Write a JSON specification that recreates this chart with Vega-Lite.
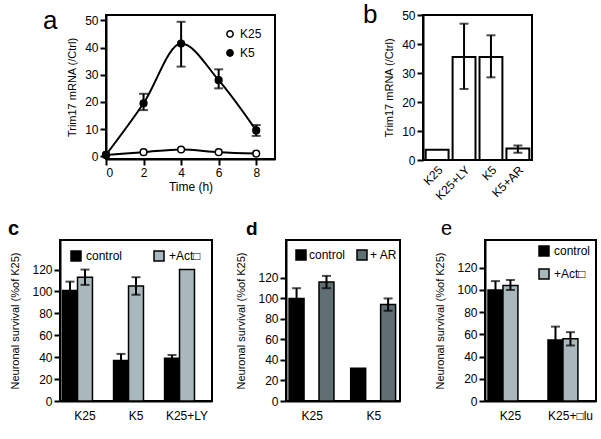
{
  "$schema": "https://vega.github.io/schema/vega-lite/v6.json",
  "background": "white",
  "padding": {"left": 7, "top": 1, "right": 0, "bottom": 0},
  "resolve": {"scale": {"fill": "independent"}, "legend": {"fill": "independent"}},
  "config": {
    "font": "Liberation Sans",
    "view": {"stroke": "black", "strokeWidth": 2},
    "axis": {"domainColor": "black", "domainWidth": 2, "tickColor": "black", "tickWidth": 2, "tickSize": 6, "labelColor": "black", "titleColor": "black", "labelFontSize": 12, "titleFontSize": 11, "titleFontWeight": "normal", "grid": false, "labelPadding": 2},
    "legend": {"labelFontSize": 12, "labelColor": "black", "titleFontSize": 0, "padding": 0, "labelOffset": 4},
    "title": {"fontSize": 26, "fontWeight": "normal", "anchor": "start", "frame": "group", "color": "black", "baseline": "alphabetic", "offset": 0}
  },
  "datasets": {
    "a": [
      {"t": 0, "s": "K25", "v": 0.5}, {"t": 2, "s": "K25", "v": 1.5}, {"t": 4, "s": "K25", "v": 2.5}, {"t": 6, "s": "K25", "v": 1.5}, {"t": 8, "s": "K25", "v": 1},
      {"t": 0, "s": "K5", "v": 0.5}, {"t": 2, "s": "K5", "v": 19.5, "lo": 17, "hi": 23}, {"t": 4, "s": "K5", "v": 41.5, "lo": 33, "hi": 49.5}, {"t": 6, "s": "K5", "v": 28, "lo": 25, "hi": 32}, {"t": 8, "s": "K5", "v": 9.5, "lo": 7.5, "hi": 11.5}
    ],
    "b": [
      {"c": "K25", "v": 3.5},
      {"c": "K25+LY", "v": 35.5, "lo": 24.5, "hi": 47},
      {"c": "K5", "v": 35.5, "lo": 28.5, "hi": 43},
      {"c": "K5+AR", "v": 4, "lo": 2.5, "hi": 5}
    ],
    "c": [
      {"c": "K25", "g": "control", "v": 101, "lo": 93, "hi": 109},
      {"c": "K25", "g": "+Act□", "v": 113, "lo": 106, "hi": 120},
      {"c": "K5", "g": "control", "v": 37, "lo": 31, "hi": 43},
      {"c": "K5", "g": "+Act□", "v": 105, "lo": 97, "hi": 113},
      {"c": "K25+LY", "g": "control", "v": 39, "lo": 36, "hi": 42},
      {"c": "K25+LY", "g": "+Act□", "v": 120}
    ],
    "d": [
      {"c": "K25", "g": "control", "v": 100, "lo": 90, "hi": 110},
      {"c": "K25", "g": "+ AR", "v": 116, "lo": 110, "hi": 122},
      {"c": "K5", "g": "control", "v": 32},
      {"c": "K5", "g": "+ AR", "v": 94, "lo": 88, "hi": 100}
    ],
    "e": [
      {"c": "K25", "g": "control", "v": 100, "lo": 92, "hi": 108},
      {"c": "K25", "g": "+Act□", "v": 104, "lo": 100, "hi": 109},
      {"c": "K25+□lu", "g": "control", "v": 55, "lo": 43, "hi": 67},
      {"c": "K25+□lu", "g": "+Act□", "v": 56, "lo": 50, "hi": 62}
    ]
  },
  "vconcat": [
    {
      "resolve": {"scale": {"fill": "independent"}, "legend": {"fill": "independent"}},
      "hconcat": [
        {"width": 5, "height": 10, "view": {"stroke": null}, "title": {"text": "a", "dx": -17, "dy": 23}, "data": {"values": []}, "mark": "point"},
        {
          "resolve": {"scale": {"fill": "independent"}, "legend": {"fill": "independent"}},
          "hconcat": [
            {
              "width": 169, "height": 144,
              "data": {"name": "a"},
              "encoding": {
                "x": {"field": "t", "type": "quantitative", "scale": {"domain": [0, 9], "nice": false}, "axis": {"values": [0, 2, 4, 6, 8], "title": "Time (h)", "titleFontSize": 12, "titlePadding": 3}},
                "y": {"field": "v", "type": "quantitative", "scale": {"domain": [-1, 52], "nice": false}, "axis": {"values": [0, 10, 20, 30, 40, 50], "title": "Trim17 mRNA (/Ctrl)", "titlePadding": 7}}
              },
              "layer": [
                {"mark": {"type": "line", "interpolate": "monotone", "color": "black", "strokeWidth": 2}, "encoding": {"detail": {"field": "s"}}},
                {"mark": {"type": "rule", "color": "black", "strokeWidth": 2}, "encoding": {"y": {"field": "lo", "type": "quantitative"}, "y2": {"field": "hi"}}},
                {"mark": {"type": "tick", "orient": "horizontal", "color": "black", "size": 9, "thickness": 2}, "encoding": {"y": {"field": "lo", "type": "quantitative"}}},
                {"mark": {"type": "tick", "orient": "horizontal", "color": "black", "size": 9, "thickness": 2}, "encoding": {"y": {"field": "hi", "type": "quantitative"}}},
                {"mark": {"type": "point", "shape": "circle", "size": 45, "stroke": "black", "strokeWidth": 1.5, "opacity": 1},
                 "encoding": {"fill": {"field": "s", "type": "nominal", "scale": {"domain": ["K25", "K5"], "range": ["white", "black"]},
                   "legend": {"orient": "top-right", "offset": 13, "title": null, "symbolStrokeColor": "black", "symbolStrokeWidth": 1.5, "symbolSize": 40, "rowPadding": 5, "labelFontSize": 12}}}}
              ]
            },
            {
              "width": 109, "height": 145,
              "title": {"text": "b", "dx": -60, "dy": 23},
              "data": {"name": "b"},
              "encoding": {
                "x": {"field": "c", "type": "nominal", "sort": null, "scale": {"paddingInner": 0.15, "paddingOuter": 0.1}, "axis": {"title": null, "labelAngle": -45, "ticks": false, "labelPadding": 4, "domain": false}},
                "y": {"field": "v", "type": "quantitative", "scale": {"domain": [0, 50], "nice": false}, "axis": {"values": [0, 10, 20, 30, 40, 50], "title": "Trim17 mRNA (/Ctrl)", "titlePadding": 7}}
              },
              "layer": [
                {"mark": {"type": "bar", "fill": "white", "stroke": "black", "strokeWidth": 2}},
                {"mark": {"type": "rule", "color": "black", "strokeWidth": 2}, "encoding": {"y": {"field": "lo", "type": "quantitative"}, "y2": {"field": "hi"}}},
                {"mark": {"type": "tick", "orient": "horizontal", "color": "black", "size": 9, "thickness": 2}, "encoding": {"y": {"field": "lo", "type": "quantitative"}}},
                {"mark": {"type": "tick", "orient": "horizontal", "color": "black", "size": 9, "thickness": 2}, "encoding": {"y": {"field": "hi", "type": "quantitative"}}}
              ]
            }
          ],
          "spacing": 86
        }
      ],
      "spacing": 0
    },
    {
      "resolve": {"scale": {"fill": "independent"}, "legend": {"fill": "independent"}},
      "hconcat": [
        {
          "width": 152, "height": 161,
          "title": {"text": "c", "dx": -52, "dy": 3, "fontWeight": "bold", "fontSize": 20},
          "data": {"name": "c"},
          "encoding": {
            "x": {"field": "c", "type": "nominal", "sort": null, "scale": {"paddingInner": 0.12, "paddingOuter": 0.05}, "axis": {"title": null, "labelAngle": 0, "ticks": false, "labelPadding": 9}},
            "xOffset": {"field": "g", "type": "nominal", "sort": null},
            "y": {"field": "v", "type": "quantitative", "scale": {"domain": [0, 147], "nice": false}, "axis": {"values": [0, 20, 40, 60, 80, 100, 120], "title": "Neuronal survival (%of K25)", "titlePadding": 11}}
          },
          "layer": [
            {"mark": {"type": "bar", "stroke": "black", "strokeWidth": 1.5},
             "encoding": {"fill": {"field": "g", "type": "nominal", "sort": null, "scale": {"domain": ["control", "+Act□"], "range": ["black", "#a9b8bd"]},
               "legend": {"orient": "top-left", "direction": "horizontal", "offset": 10, "title": null, "symbolType": "square", "symbolSize": 100, "symbolStrokeColor": "black", "symbolStrokeWidth": 1.5, "columnPadding": 28}}}},
            {"mark": {"type": "rule", "color": "black", "strokeWidth": 2}, "encoding": {"y": {"field": "lo", "type": "quantitative"}, "y2": {"field": "hi"}}},
            {"mark": {"type": "tick", "orient": "horizontal", "color": "black", "size": 9, "thickness": 2}, "encoding": {"y": {"field": "lo", "type": "quantitative"}}},
            {"mark": {"type": "tick", "orient": "horizontal", "color": "black", "size": 9, "thickness": 2}, "encoding": {"y": {"field": "hi", "type": "quantitative"}}}
          ]
        },
        {
          "resolve": {"scale": {"fill": "independent"}, "legend": {"fill": "independent"}},
          "hconcat": [
            {
              "width": 114, "height": 161,
              "title": {"text": "d", "dx": -40, "dy": 3, "fontWeight": "bold", "fontSize": 19},
              "data": {"name": "d"},
              "encoding": {
                "x": {"field": "c", "type": "nominal", "sort": null, "scale": {"paddingInner": 0.25, "paddingOuter": 0.05}, "axis": {"title": null, "labelAngle": 0, "ticks": false, "labelPadding": 9}},
                "xOffset": {"field": "g", "type": "nominal", "sort": null},
                "y": {"field": "v", "type": "quantitative", "scale": {"domain": [0, 157], "nice": false}, "axis": {"values": [0, 20, 40, 60, 80, 100, 120], "title": "Neuronal survival (%of K25)", "titlePadding": 11}}
              },
              "layer": [
                {"mark": {"type": "bar", "stroke": "black", "strokeWidth": 1.5},
                 "encoding": {"fill": {"field": "g", "type": "nominal", "sort": null, "scale": {"domain": ["control", "+ AR"], "range": ["black", "#5f6f73"]},
                   "legend": {"orient": "top-left", "direction": "horizontal", "offset": 9, "title": null, "symbolType": "square", "symbolSize": 100, "symbolStrokeColor": "black", "symbolStrokeWidth": 1.5, "columnPadding": 8, "labelOffset": 2}}}},
                {"mark": {"type": "rule", "color": "black", "strokeWidth": 2}, "encoding": {"y": {"field": "lo", "type": "quantitative"}, "y2": {"field": "hi"}}},
                {"mark": {"type": "tick", "orient": "horizontal", "color": "black", "size": 9, "thickness": 2}, "encoding": {"y": {"field": "lo", "type": "quantitative"}}},
                {"mark": {"type": "tick", "orient": "horizontal", "color": "black", "size": 9, "thickness": 2}, "encoding": {"y": {"field": "hi", "type": "quantitative"}}}
              ]
            },
            {
              "width": 111, "height": 161,
              "title": {"text": "e", "dx": -44, "dy": 3, "fontSize": 20},
              "data": {"name": "e"},
              "encoding": {
                "x": {"field": "c", "type": "nominal", "sort": null, "scale": {"paddingInner": 0.25, "paddingOuter": 0.05}, "axis": {"title": null, "labelAngle": 0, "ticks": false, "labelPadding": 9}},
                "xOffset": {"field": "g", "type": "nominal", "sort": null},
                "y": {"field": "v", "type": "quantitative", "scale": {"domain": [0, 145], "nice": false}, "axis": {"values": [0, 20, 40, 60, 80, 100, 120], "title": "Neuronal survival (%of K25)", "titlePadding": 11}}
              },
              "layer": [
                {"mark": {"type": "bar", "stroke": "black", "strokeWidth": 1.5},
                 "encoding": {"fill": {"field": "g", "type": "nominal", "sort": null, "scale": {"domain": ["control", "+Act□"], "range": ["black", "#a9b8bd"]},
                   "legend": {"orient": "top-right", "offset": 5, "title": null, "symbolType": "square", "symbolSize": 100, "symbolStrokeColor": "black", "symbolStrokeWidth": 1.5, "rowPadding": 7}}}},
                {"mark": {"type": "rule", "color": "black", "strokeWidth": 2}, "encoding": {"y": {"field": "lo", "type": "quantitative"}, "y2": {"field": "hi"}}},
                {"mark": {"type": "tick", "orient": "horizontal", "color": "black", "size": 9, "thickness": 2}, "encoding": {"y": {"field": "lo", "type": "quantitative"}}},
                {"mark": {"type": "tick", "orient": "horizontal", "color": "black", "size": 9, "thickness": 2}, "encoding": {"y": {"field": "hi", "type": "quantitative"}}}
              ]
            }
          ],
          "spacing": 32
        }
      ],
      "spacing": 21
    }
  ],
  "spacing": 15
}
